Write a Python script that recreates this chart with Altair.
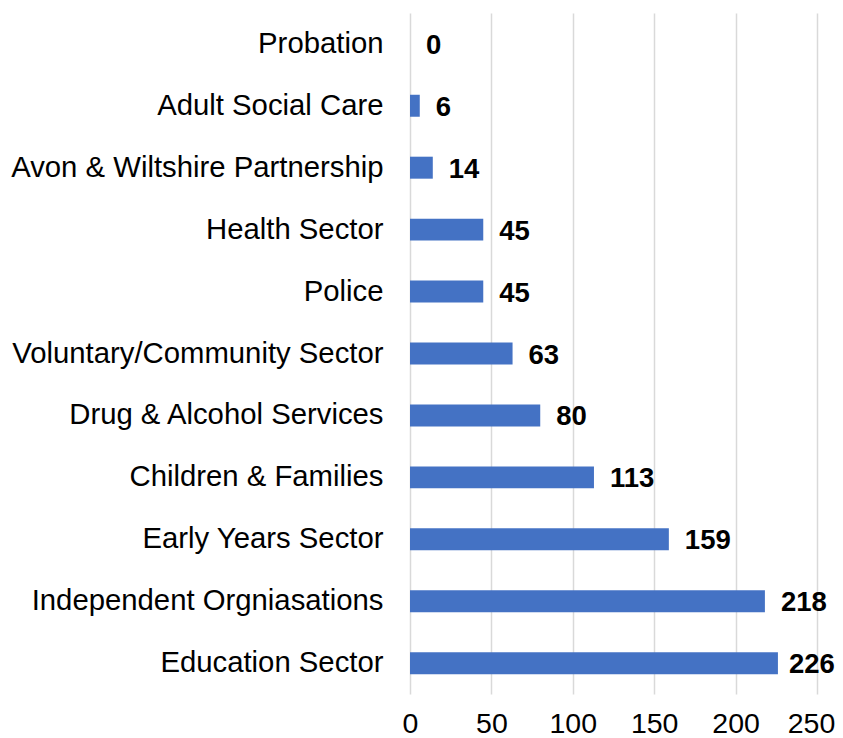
import altair as alt
import pandas as pd

categories = ["Probation", "Adult Social Care", "Avon & Wiltshire Partnership",
              "Health Sector", "Police", "Voluntary/Community Sector",
              "Drug & Alcohol Services", "Children & Families", "Early Years Sector",
              "Independent Orgniasations", "Education Sector"]
values = [0, 6, 14, 45, 45, 63, 80, 113, 159, 218, 226]
x_ticks = [0, 50, 100, 150, 200, 250]

df = pd.DataFrame({"cat": categories, "val": values})

FS = 29.3

y = alt.Y("cat:N", sort=categories, title=None,
          scale=alt.Scale(paddingInner=0.645, paddingOuter=0.32),
          axis=alt.Axis(domain=False, ticks=False, grid=False, labelPadding=27,
                        labelFont="Liberation Sans", labelFontSize=FS,
                        labelColor="#000000", labelLimit=600))
x = alt.X("val:Q", title=None,
          scale=alt.Scale(domain=[0, 250], nice=False),
          axis=alt.Axis(values=x_ticks, domain=False, ticks=False, grid=True,
                        gridColor="#d9d9d9", gridWidth=1.5, labelPadding=15,
                        labelFlush=False, labelOverlap=False,
                        labelOffset={"condition": {"test": "datum.value === 250", "value": -6}, "value": 0},
                        labelFont="Liberation Sans", labelFontSize=28.5,
                        labelColor="#000000"))

bars = alt.Chart(df).mark_bar(color="#4472C4").encode(x=x, y=y)
text_style = dict(align="left", baseline="middle", dy=2, font="Liberation Sans",
                  fontSize=27.5, fontWeight="bold", color="#000000")
labels = alt.Chart(df).transform_filter("datum.val < 220").mark_text(dx=16, **text_style).encode(
    x="val:Q", y=alt.Y("cat:N", sort=categories), text="val:Q")
labels_end = alt.Chart(df).transform_filter("datum.val >= 220").mark_text(dx=11, **text_style).encode(
    x="val:Q", y=alt.Y("cat:N", sort=categories), text="val:Q")

chart = (bars + labels + labels_end).properties(
    width=407, height=681,
    autosize=alt.AutoSizeParams(type="none"),
    padding={"left": 402, "top": 5, "right": 18, "bottom": 44},
).configure_view(stroke=None)

chart.save("out.html", embed_options={"renderer": "svg", "actions": False})
